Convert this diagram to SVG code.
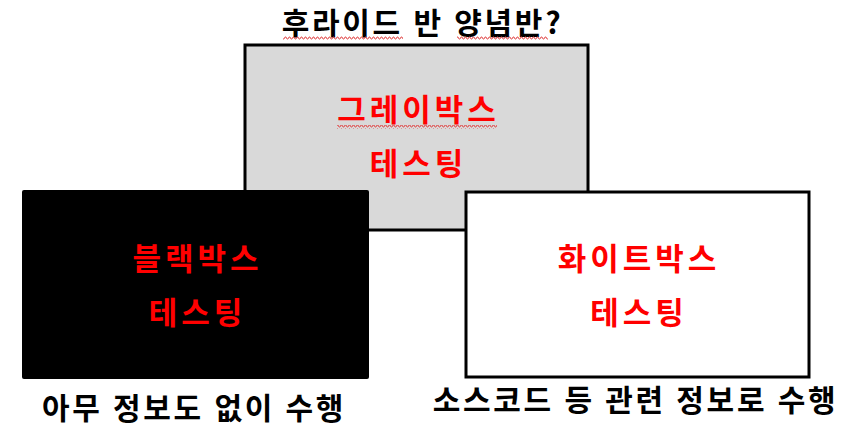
<svg xmlns="http://www.w3.org/2000/svg" width="856" height="431" viewBox="0 0 856 431">
<style>
.t{font-family:"Noto Sans CJK KR","Noto Sans",sans-serif;font-weight:bold;text-anchor:middle}
.blk{fill:#000;font-size:30px;letter-spacing:2.7px;word-spacing:1px}
.red{fill:#ff0000;font-size:31px;letter-spacing:4px}
.box{stroke:#000;stroke-width:3}
</style>
<defs>
<pattern id="wave" width="4" height="4" patternUnits="userSpaceOnUse">
<path d="M0,3 L1,1 L2,1 L3,3 L4,3" fill="none" stroke="#e04040" stroke-width="0.9"/>
</pattern>
</defs>
<rect width="856" height="431" fill="#fff"/>
<g id="title">
<text class="t blk" x="422.5" y="34">후라이드 반 양념반?</text>
<rect x="283" y="36" width="120" height="4" fill="url(#wave)"/>
<rect x="457" y="36" width="91" height="4" fill="url(#wave)"/>
</g>
<g id="graybox">
<rect class="box" x="245" y="45" width="343" height="185" fill="#d9d9d9"/>
<text class="t red" x="418.5" y="121">그레이박스</text>
<rect x="337" y="125" width="160" height="4" fill="url(#wave)"/>
<text class="t red" x="418.5" y="175">테스팅</text>
</g>
<g id="blackbox">
<rect x="22" y="190" width="347" height="189" rx="2" fill="#000"/>
<text class="t red" x="197.5" y="270">블랙박스</text>
<text class="t red" x="197.5" y="324">테스팅</text>
</g>
<g id="whitebox">
<rect class="box" x="466" y="192" width="343" height="185" fill="#fff"/>
<text class="t red" x="639" y="270">화이트박스</text>
<text class="t red" x="639" y="324">테스팅</text>
</g>
<g id="labels">
<text class="t blk" x="194" y="419">아무 정보도 없이 수행</text>
<text class="t blk" x="635.5" y="411">소스코드 등 관련 정보로 수행</text>
</g>
<g id="connectors"></g>
</svg>
